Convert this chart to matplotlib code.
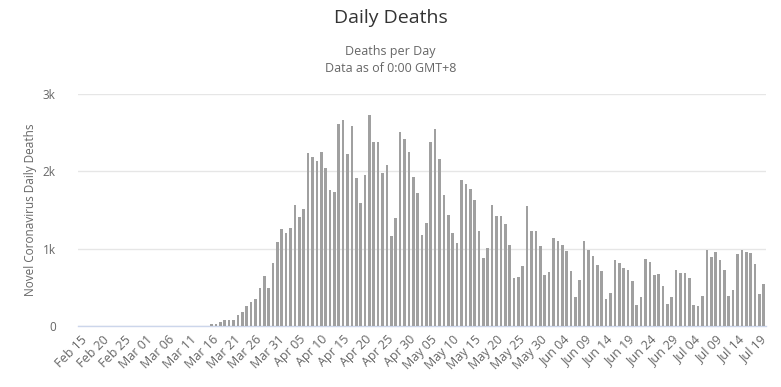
import matplotlib
matplotlib.use("Agg")
import matplotlib.pyplot as plt
import pandas as pd

# daily deaths, Feb 15 .. Jul 20
start_date = "2020-02-15"
feb_vals = [0, 0, 0, 0, 0, 0, 0, 0, 0, 0, 0, 0, 0, 0, 1]
mar_vals = [1, 2, 1, 2, 1, 1, 2, 2, 2, 3, 3, 3, 4, 4, 5,
            20, 28, 56, 73, 73, 73, 141, 184, 265, 312, 355, 496, 650, 496, 820, 1085]
apr_vals = [1252, 1200, 1269, 1568, 1415, 1509, 2239, 2188, 2137, 2256,
            2047, 1756, 1735, 2611, 2662, 2226, 2581, 1910, 1585, 1957,
            2722, 2380, 2380, 1974, 2085, 1158, 1397, 2509, 2423, 2256]
may_vals = [1932, 1722, 1175, 1329, 2385, 2551, 2162, 1692, 1440, 1205,
            1077, 1893, 1842, 1778, 1624, 1226, 876, 1013, 1568, 1427,
            1427, 1316, 1047, 624, 637, 778, 1551, 1226, 1226, 1030, 654]
jun_vals = [692, 1141, 1098, 1051, 974, 709, 380, 598, 1098, 987,
            906, 795, 709, 346, 427, 850, 821, 752, 722, 585,
            274, 376, 868, 825, 654, 667, 513, 282, 376, 722]
jul_vals = [679, 679, 624, 269, 256, 385, 987, 893, 962, 850,
            722, 385, 470, 936, 987, 962, 949, 808, 410, 543]

deaths = feb_vals + mar_vals + apr_vals + may_vals + jun_vals + jul_vals
dates = pd.date_range(start_date, periods=len(deaths), freq="D")
y_ticks = [0, 1000, 2000, 3000]
y_tick_labels = ["0", "1k", "2k", "3k"]

plt.rcParams["font.family"] = ["Open Sans", "DejaVu Sans"]

W, H = 781, 387
fig = plt.figure(figsize=(W / 100, H / 100), dpi=100)
ax = fig.add_axes([78 / W, 1 - 326 / H, (766 - 78) / W, (326 - 94) / H])

x = list(range(len(deaths)))
ax.bar(x, deaths, width=0.6, color="#a0a0a0", linewidth=0, zorder=3)

ax.set_xlim(-0.5, len(deaths) - 0.5)
ax.set_ylim(0, 3000)
ax.set_yticks(y_ticks)
ax.set_yticklabels(y_tick_labels)
ax.grid(axis="y", color="#e6e6e6", linewidth=1, zorder=0)

tick_pos = x[::5]
ax.set_xticks(tick_pos)
ax.set_xticklabels([d.strftime("%b %d") for d in dates[::5]], rotation=45,
                   ha="right", va="top", rotation_mode="anchor")

for side in ["top", "right", "left"]:
    ax.spines[side].set_visible(False)
ax.spines["bottom"].set_color("#ccd6eb")
ax.spines["bottom"].set_linewidth(1)
ax.tick_params(axis="y", length=0, pad=16, labelsize=8.5, labelcolor="#666666")
ax.tick_params(axis="x", length=0, pad=5, labelsize=9, labelcolor="#666666")

ax.set_ylabel("Novel Coronavirus Daily Deaths", fontsize=8.5, color="#666666", labelpad=4)

fig.text(0.5, 1 - 18 / H, "Daily Deaths", ha="center", va="center", fontsize=14, color="#333333")
fig.text(0.5, 1 - 52 / H, "Deaths per Day", ha="center", va="center", fontsize=9, color="#666666")
fig.text(0.5, 1 - 68 / H, "Data as of 0:00 GMT+8", ha="center", va="center", fontsize=9, color="#666666")

fig.savefig("out.png", dpi=100)
